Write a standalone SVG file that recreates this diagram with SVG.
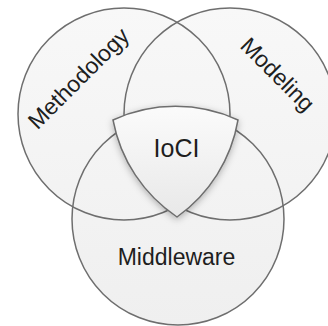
<svg xmlns="http://www.w3.org/2000/svg" width="328" height="326" viewBox="0 0 328 326">
  <style>
    .ring { fill: none; stroke: #6e6e6e; stroke-width: 1.5; }
    .bg { fill: url(#ringFill); stroke: none; }
    .lbl { font-family: "Liberation Sans", Arial, sans-serif; font-size: 23px; fill: #1e1e1e; text-anchor: middle; }
  </style>
  <defs>
    <linearGradient id="ringFill" gradientUnits="userSpaceOnUse" x1="0" y1="8" x2="0" y2="325">
      <stop offset="0" stop-color="#f8f8f8"/>
      <stop offset="1" stop-color="#efefef"/>
    </linearGradient>
    <linearGradient id="coreFill" x1="0" y1="0" x2="0" y2="1">
      <stop offset="0" stop-color="#fbfbfb"/>
      <stop offset="1" stop-color="#e8e8e8"/>
    </linearGradient>
    <filter id="shadow" x="-30%" y="-30%" width="160%" height="160%">
      <feDropShadow dx="0" dy="2" stdDeviation="3.5" flood-color="#000000" flood-opacity="0.28"/>
    </filter>
  </defs>
  <rect width="328" height="326" fill="#ffffff"/>
  <g id="backdrop">
    <circle class="bg" cx="124" cy="114" r="106"/>
    <circle class="bg" cx="230" cy="114" r="106"/>
    <circle class="bg" cx="178" cy="219" r="106"/>
  </g>
  <g id="methodology">
    <circle class="ring" cx="124" cy="114" r="106"/>
    <text class="lbl" transform="translate(84 84) rotate(-45)">Methodology</text>
  </g>
  <g id="modeling">
    <circle class="ring" cx="230" cy="114" r="106"/>
    <text class="lbl" transform="translate(272 80) rotate(45)">Modeling</text>
  </g>
  <g id="middleware">
    <circle class="ring" cx="178" cy="219" r="106"/>
    <text class="lbl" x="176.5" y="265">Middleware</text>
  </g>
  <g id="ioci">
    <path d="M113,120 A150,150 0 0 1 238,120 A150,150 0 0 1 177,217 A150,150 0 0 1 113,120 Z" fill="url(#coreFill)" stroke="#6e6e6e" stroke-width="1.5" stroke-linejoin="miter" filter="url(#shadow)"/>
    <text class="lbl" x="176.5" y="157" style="font-size:25px">IoCI</text>
  </g>
  <g id="connectors"/>
</svg>
